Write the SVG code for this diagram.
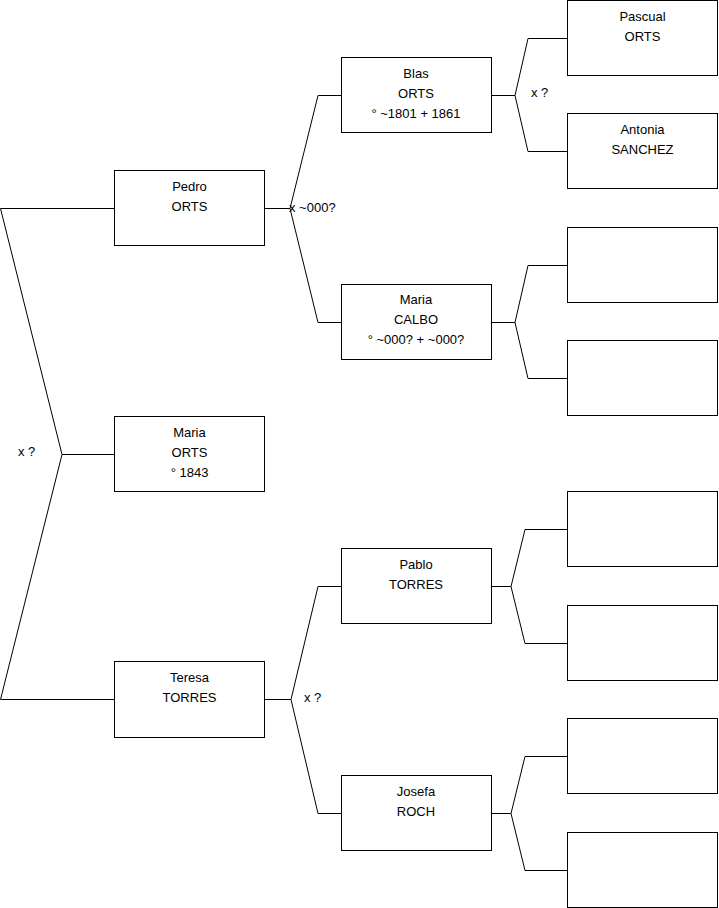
<svg xmlns="http://www.w3.org/2000/svg" width="719" height="908" viewBox="0 0 719 908">
<style>
.box{fill:#fff;stroke:#000;stroke-width:1}
.ln{fill:none;stroke:#000;stroke-width:1}
text{font-family:"Liberation Sans",Arial,sans-serif;font-size:13px;fill:#000}
.c{text-anchor:middle}
</style>
<rect width="719" height="908" fill="#fff"/>
<g id="connectors">
<path class="ln" d="M114,208.5 H0.5 L62,454.5 L0.5,699.5 H114"/>
<path class="ln" d="M62,454.5 H114"/>
<path class="ln" d="M265,208.5 H290 L318,95.5 H341 M290,208.5 L318,322.5 H341"/>
<path class="ln" d="M491,95.5 H515 L528,38.5 H567 M515,95.5 L528,151.5 H567"/>
<path class="ln" d="M491,322.5 H515 L528,265.5 H567 M515,322.5 L528,378.5 H567"/>
<path class="ln" d="M265,699.5 H291 L318,586.5 H341 M291,699.5 L318,813.5 H341"/>
<path class="ln" d="M491,586.5 H511 L525,529.5 H567 M511,586.5 L525,643.5 H567"/>
<path class="ln" d="M491,813.5 H511 L525,756.5 H567 M511,813.5 L525,870.5 H567"/>
<text x="18" y="456">x ?</text>
<text x="289" y="212">x ~000?</text>
<text x="531" y="97">x ?</text>
<text x="304" y="702">x ?</text>
</g>
<g id="pedro"><rect class="box" x="114.5" y="170.5" width="150" height="75"/><text class="c" x="189.5" y="191">Pedro</text><text class="c" x="189.5" y="211">ORTS</text></g>
<g id="maria-orts"><rect class="box" x="114.5" y="416.5" width="150" height="75"/><text class="c" x="189.5" y="437">Maria</text><text class="c" x="189.5" y="457">ORTS</text><text class="c" x="189.5" y="477">° 1843</text></g>
<g id="teresa"><rect class="box" x="114.5" y="661.5" width="150" height="76"/><text class="c" x="189.5" y="682">Teresa</text><text class="c" x="189.5" y="702">TORRES</text></g>
<g id="blas"><rect class="box" x="341.5" y="57.5" width="150" height="75"/><text class="c" x="416" y="78">Blas</text><text class="c" x="416" y="98">ORTS</text><text class="c" x="416" y="118">° ~1801 + 1861</text></g>
<g id="maria-calbo"><rect class="box" x="341.5" y="284.5" width="150" height="75"/><text class="c" x="416" y="304">Maria</text><text class="c" x="416" y="324">CALBO</text><text class="c" x="416" y="344">° ~000? + ~000?</text></g>
<g id="pablo"><rect class="box" x="341.5" y="548.5" width="150" height="75"/><text class="c" x="416" y="569">Pablo</text><text class="c" x="416" y="589">TORRES</text></g>
<g id="josefa"><rect class="box" x="341.5" y="775.5" width="150" height="75"/><text class="c" x="416" y="796">Josefa</text><text class="c" x="416" y="816">ROCH</text></g>
<g id="pascual"><rect class="box" x="567.5" y="0.5" width="150" height="75"/><text class="c" x="642.5" y="21">Pascual</text><text class="c" x="642.5" y="41">ORTS</text></g>
<g id="antonia"><rect class="box" x="567.5" y="113.5" width="150" height="75"/><text class="c" x="642.5" y="134">Antonia</text><text class="c" x="642.5" y="154">SANCHEZ</text></g>
<g id="calbo-father"><rect class="box" x="567.5" y="227.5" width="150" height="75"/></g>
<g id="calbo-mother"><rect class="box" x="567.5" y="340.5" width="150" height="75"/></g>
<g id="pablo-father"><rect class="box" x="567.5" y="491.5" width="150" height="75"/></g>
<g id="pablo-mother"><rect class="box" x="567.5" y="605.5" width="150" height="75"/></g>
<g id="josefa-father"><rect class="box" x="567.5" y="718.5" width="150" height="75"/></g>
<g id="josefa-mother"><rect class="box" x="567.5" y="832.5" width="150" height="75"/></g>
</svg>
